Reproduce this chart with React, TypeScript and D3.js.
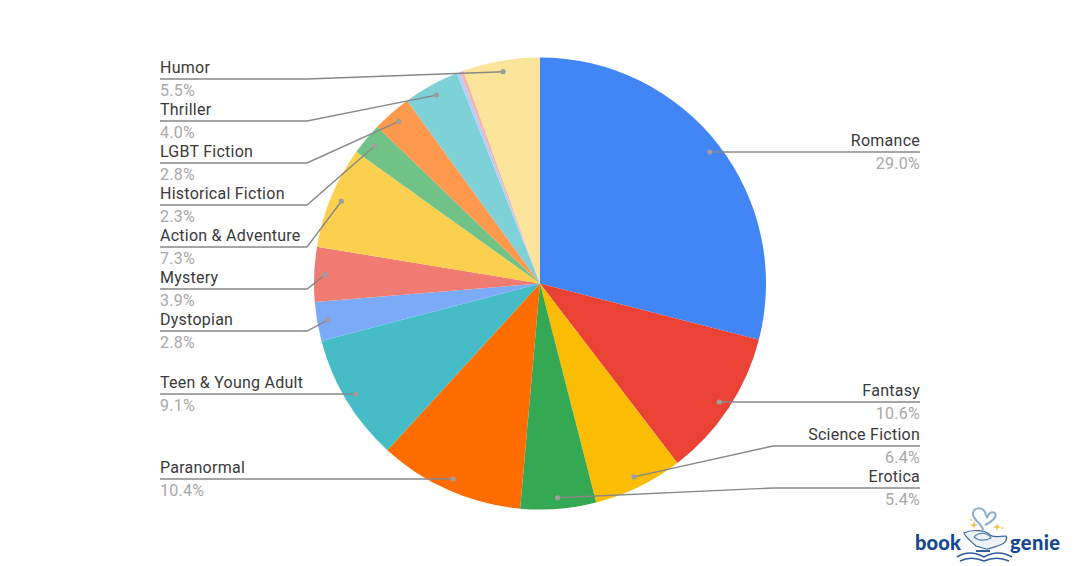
import * as d3 from "d3";

const categories = ["Romance", "Fantasy", "Science Fiction", "Erotica", "Paranormal", "Teen & Young Adult", "Dystopian", "Mystery", "Action & Adventure", "Historical Fiction", "LGBT Fiction", "Thriller", "Other A", "Other B", "Humor"];
const values = [29.0, 10.6, 6.4, 5.4, 10.4, 9.1, 2.8, 3.9, 7.3, 2.3, 2.8, 4.0, 0.25, 0.25, 5.5];
const colors = ["#4285F4", "#EA4335", "#FBBC04", "#34A853", "#FF6D01", "#46BDC6", "#7BAAF7", "#F07B72", "#FCD04F", "#71C287", "#FF994D", "#7ED1D7", "#B3CEFB", "#F7B4AE", "#FDE49B"];
// y of the label rule for each slice, null = no label
const ruleY = [152, 402, 446, 488, 479, 394, 331, 289, 247, 205, 163, 121, null, null, 79];

const width = 1080;
const height = 566;
const cx = 540;
const cy = 283.5;
const radius = 226;
const dotRadius = 215;
const leftX = 160;
const rightX = 920;
const leftElbow = 307;
const rightElbow = 773;

function Logo() {
    return (
        <g fill="none">
            <text x={915} y={550} fontFamily="Lato, sans-serif" fontWeight={900} fontSize={20} letterSpacing={0.2} fill="#16468f" stroke="none">book</text>
            <text x={1010} y={550} fontFamily="Lato, sans-serif" fontWeight={900} fontSize={20} letterSpacing={0.4} fill="#16468f" stroke="none">genie</text>
            {/* steam heart */}
            <path d="M983 530 C983 524 972 520 973 513 C974 507 982 507 985 512 L987 518 M987 518 C988 513 992 511 995 513 C998 517 990 523 985 525" stroke="#86aed0" strokeWidth={2} />
            {/* lamp */}
            <path d="M964 533 C972 529 986 530 990 535 C993 538 1000 536 1006 536 C1008 539 1005 544 1000 545 C994 547 990 549 986 549 L976 546 C972 542 966 538 964 533 Z" stroke="#3a689f" strokeWidth={1.2} fill="#eef3f8" />
            <path d="M974 537 C978 532 988 532 991 538 C986 541 978 541 974 537 Z" stroke="#5b86b5" strokeWidth={1.1} />
            <path d="M976 551 L990 551" stroke="#2f5d9f" strokeWidth={2} />
            {/* open book */}
            <path d="M957 557 C965 552 975 552 984 557 C993 552 1003 552 1012 557 M960 561 C968 557 977 558 984 561 C991 558 1000 557 1009 561" stroke="#2f5d9f" strokeWidth={1.5} />
            {/* sparkles */}
            <path d="M974 521 l1 3 3 1 -3 1 -1 3 -1 -3 -3 -1 3 -1 Z M997 523 l1 3 3 1 -3 1 -1 3 -1 -3 -3 -1 3 -1 Z" fill="#f0c24a" />
            <circle cx={971} cy={520} r={0.9} fill="#f0c24a" />
            <circle cx={1002} cy={528} r={0.9} fill="#f0c24a" />
        </g>
    );
}

export default function App() {
    const pie = d3.pie<number>().sort(null).value(d => d);
    const arcs = pie(values);
    const arc = d3.arc<d3.PieArcDatum<number>>().innerRadius(0).outerRadius(radius);
    const dotArc = d3.arc<d3.PieArcDatum<number>>().innerRadius(dotRadius).outerRadius(dotRadius);
    const line = d3.line();

    return (
        <svg width={width} height={height} style={{ position: "fixed", left: 0, top: 0, background: "#fff" }} fontFamily="Roboto, sans-serif">
            <g transform={`translate(${cx},${cy})`}>
                {arcs.map((a, i) => (
                    <path key={i} d={arc(a) ?? ""} fill={colors[i]} />
                ))}
            </g>
            {arcs.map((a, i) => {
                const y = ruleY[i];
                if (y === null) return null;
                const [dx, dy] = dotArc.centroid(a);
                const px = cx + dx;
                const py = cy + dy;
                const onRight = px > cx;
                const edge = onRight ? rightX : leftX;
                const elbow = onRight ? rightElbow : leftElbow;
                const straight = Math.abs(py - y) < 2;
                const pts: [number, number][] = straight ? [[px, y], [edge, y]] : [[px, py], [elbow, y], [edge, y]];
                return (
                    <g key={i}>
                        <path d={line(pts) ?? ""} fill="none" stroke="#888888" strokeWidth={1.4} />
                        <circle cx={px} cy={straight ? y : py} r={2.6} fill="#9e9e9e" />
                        <text x={edge} y={y - 6} textAnchor={onRight ? "end" : "start"} fontSize={16} letterSpacing={0.25} fill="#3a3a3a">{categories[i]}</text>
                        <text x={edge} y={y + 17} textAnchor={onRight ? "end" : "start"} fontSize={16} letterSpacing={0.25} fill="#a8a8a8">{values[i].toFixed(1)}%</text>
                    </g>
                );
            })}
            <Logo />
        </svg>
    );
}
